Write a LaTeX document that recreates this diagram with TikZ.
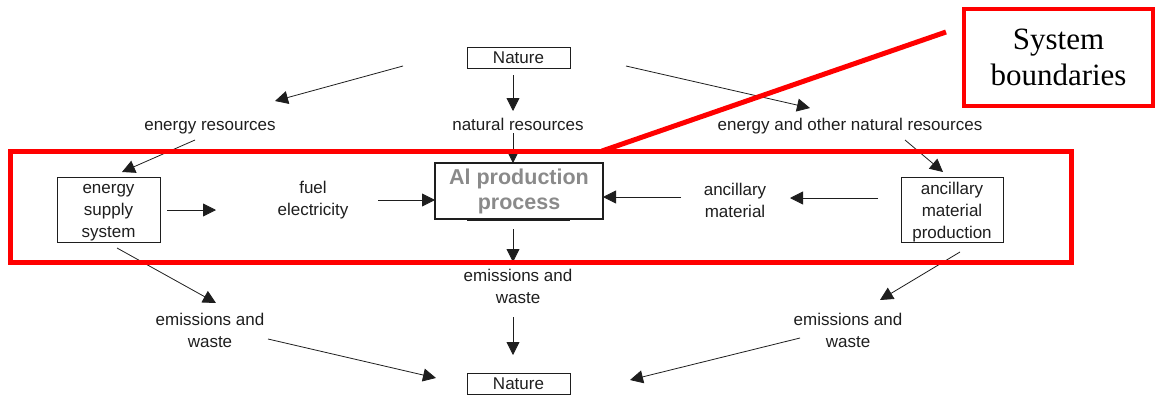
\documentclass[tikz,border=0pt]{standalone}
\usepackage{fontspec}
\setmainfont{Liberation Sans}
\newfontfamily\serifface{Liberation Serif}
\usetikzlibrary{arrows.meta}
\definecolor{ink}{HTML}{1E1E1E}
\definecolor{boundred}{HTML}{FF0000}
\definecolor{procgray}{HTML}{8A8A8A}
\begin{document}
\begin{tikzpicture}[x=1pt,y=-1pt,
  lbl/.style={font=\fontsize{17}{22}\selectfont, text=ink, align=center, inner sep=0pt},
  boxed/.style={draw=ink, line width=0.9pt, font=\fontsize{17}{22}\selectfont, text=ink, align=center, inner sep=0pt},
  flow/.style={draw=ink, line width=0.8pt, -{Triangle[length=13pt,width=13pt]}},
  bound/.style={draw=boundred, line width=5pt}
]
\useasboundingbox (0,0) rectangle (1160,394);

% nodes
\node[boxed, minimum width=103pt, minimum height=21pt] (natTop) at (518.5,57.5) {Nature};
\node[boxed, minimum width=103pt, minimum height=21pt] (natBot) at (518.5,384) {Nature};
\node[lbl, anchor=base] (enres) at (210,130) {energy resources};
\node[lbl, anchor=base] (natres) at (518,130) {natural resources};
\node[lbl, anchor=base] (othres) at (850,130) {energy and other natural resources};
\node[boxed, minimum width=103pt, minimum height=65pt] (ess) at (108.5,209.5) {};
\node[lbl] (esstext) at ([yshift=-3pt]ess.center) {energy\\supply\\system};
\node[lbl] (fuel) at (313,200) {fuel\\electricity};
\node[draw=ink, line width=1.3pt, minimum width=168pt, minimum height=56pt, inner sep=0pt,
      font=\fontsize{21.5}{25}\selectfont\bfseries, text=procgray, align=center] (alp) at (519,191) {Al production\\process};
\node[lbl] (anc) at (735,200) {ancillary\\material};
\node[boxed, minimum width=102pt, minimum height=65pt] (amp) at (952,209.5) {};
\node[lbl] (amptext) at ([yshift=-3pt]amp.center) {ancillary\\material\\production};
\node[lbl] (emC) at (518,286) {emissions and\\waste};
\node[lbl] (emL) at (210,330) {emissions and\\waste};
\node[lbl] (emR) at (848,330) {emissions and\\waste};

% connector end points
\coordinate (tl0) at (403,66);   \coordinate (tl1) at (275,101);
\coordinate (tr0) at (626,66);   \coordinate (tr1) at (810,108);
\coordinate (el0) at (195,140);  \coordinate (el1) at (122,172);
\coordinate (er0) at (905,140);  \coordinate (er1) at (943,172);
\coordinate (nr0) at (513,75);   \coordinate (nr1) at (513,111);
\coordinate (ar0) at (513,133);  \coordinate (ar1) at (513,163);
\coordinate (fs0) at (167,210);  \coordinate (fs1) at (216,210);
\coordinate (fe0) at (378,200);  \coordinate (fe1) at (435,200);
\coordinate (am0) at (681,197);  \coordinate (am1) at (603,197);
\coordinate (ap0) at (878,198);  \coordinate (ap1) at (790,198);
\coordinate (pd0) at (513,229);  \coordinate (pd1) at (513,262);
\coordinate (ed0) at (513,317);  \coordinate (ed1) at (513,355);
\coordinate (ls0) at (117,248);  \coordinate (ls1) at (216,303);
\coordinate (ln0) at (268,339);  \coordinate (ln1) at (436,378);
\coordinate (rs0) at (960,252);  \coordinate (rs1) at (880,300);
\coordinate (rn0) at (800,338);  \coordinate (rn1) at (630,380);

% resource flows
\draw[flow] (tl0) -- (tl1);
\draw[flow] (tr0) -- (tr1);
\draw[flow] (nr0) -- (nr1);
\draw[flow] (el0) -- (el1);
\draw[flow] (er0) -- (er1);
\draw[flow] (ar0) -- (ar1);

% flows inside the system
\draw[flow] (fs0) -- (fs1);
\draw[flow] (fe0) -- (fe1);
\draw[flow] (am0) -- (am1);
\draw[flow] (ap0) -- (ap1);
\draw[draw=ink, line width=2pt] (467,220) -- (570,220);

% emission flows
\draw[flow] (pd0) -- (pd1);
\draw[flow] (ed0) -- (ed1);
\draw[flow] (ls0) -- (ls1);
\draw[flow] (ln0) -- (ln1);
\draw[flow] (rs0) -- (rs1);
\draw[flow] (rn0) -- (rn1);

% system boundary and its callout
\node[draw=boundred, line width=5pt, minimum width=1061pt, minimum height=111pt, inner sep=0pt] (sys) at (540.5,206.5) {};
\node[draw=boundred, line width=4pt, minimum width=189pt, minimum height=97pt, inner sep=0pt,
      font=\serifface\fontsize{31}{36}\selectfont, align=center] (call) at (1058.5,57) {System\\boundaries};
\coordinate (cl0) at (602,151);
\coordinate (cl1) at (946,32);
\draw[bound] (cl0) -- (cl1);
\end{tikzpicture}
\end{document}
